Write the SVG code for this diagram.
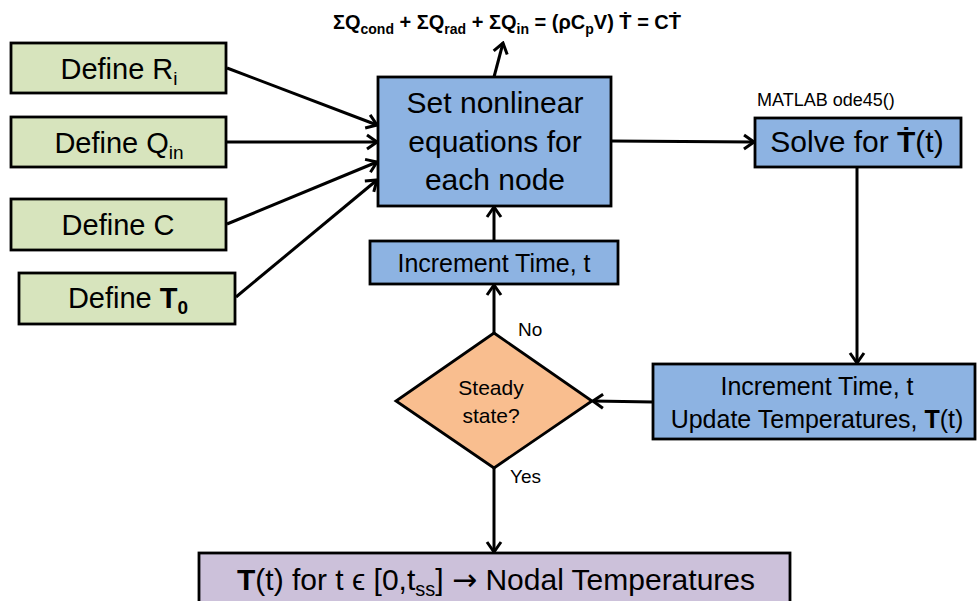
<svg xmlns="http://www.w3.org/2000/svg" width="979" height="601" viewBox="0 0 979 601">
<style>
  text { font-family: "Liberation Sans", Arial, sans-serif; fill: #000; }
  .box { stroke: #000; stroke-width: 2.8; }
  .green { fill: #D7E4BD; }
  .blue { fill: #8DB3E2; }
  .orange { fill: #F9BE8F; }
  .purple { fill: #CCC1DA; }
  .big { font-size: 29px; }
  .mid { font-size: 25px; }
  .lbl { font-size: 19px; }
  .conn line, .conn polyline { stroke: #000; stroke-width: 3; fill: none; marker-end: url(#arr); }
</style>
<defs>
  <marker id="arr" markerUnits="userSpaceOnUse" viewBox="-12 -9 14 18" refX="0" refY="0" markerWidth="14" markerHeight="18" orient="auto">
    <path d="M-10,-7 L0,0 L-10,7" fill="none" stroke="#000" stroke-width="3" stroke-linejoin="miter"/>
  </marker>
</defs>
<rect width="979" height="601" fill="#fff"/>

<g id="equation">
  <text x="507" y="29" text-anchor="middle" font-size="20" font-weight="bold">ΣQ<tspan font-size="14" dy="5">cond</tspan><tspan dy="-5"> + ΣQ</tspan><tspan font-size="14" dy="5">rad</tspan><tspan dy="-5"> + ΣQ</tspan><tspan font-size="14" dy="5">in</tspan><tspan dy="-5"> = (ρC</tspan><tspan font-size="14" dy="5">p</tspan><tspan dy="-5">V) Ṫ = CṪ</tspan></text>
</g>

<g id="defineR">
  <rect class="box green" x="11" y="43" width="215" height="50"/>
  <text class="big" x="119" y="79" text-anchor="middle">Define R<tspan font-size="19" dy="6">i</tspan></text>
</g>
<g id="defineQ">
  <rect class="box green" x="11" y="117" width="215" height="50"/>
  <text class="big" x="119" y="153" text-anchor="middle">Define Q<tspan font-size="19" dy="6">in</tspan></text>
</g>
<g id="defineC">
  <rect class="box green" x="11" y="199" width="215" height="51"/>
  <text class="big" x="118" y="235" text-anchor="middle">Define C</text>
</g>
<g id="defineT0">
  <rect class="box green" x="19" y="273" width="216" height="51"/>
  <text class="big" x="128" y="308" text-anchor="middle">Define <tspan font-weight="bold">T</tspan><tspan font-size="19" font-weight="bold" dy="6">0</tspan></text>
</g>

<g id="setEquations">
  <rect class="box blue" x="378" y="77" width="233" height="129"/>
  <text x="495" y="113" font-size="30" text-anchor="middle">Set nonlinear</text>
  <text x="495" y="152" font-size="30" text-anchor="middle">equations for</text>
  <text x="495" y="190" font-size="30" text-anchor="middle">each node</text>
</g>

<g id="matlabLabel">
  <text x="757" y="106" font-size="18">MATLAB ode45()</text>
</g>

<g id="solve">
  <rect class="box blue" x="755" y="118" width="206" height="49"/>
  <text x="857" y="152" font-size="30" text-anchor="middle">Solve for <tspan font-weight="bold">Ṫ</tspan>(t)</text>
</g>

<g id="incrementTime">
  <rect class="box blue" x="370" y="241" width="248" height="43"/>
  <text class="mid" x="494" y="272" text-anchor="middle">Increment Time, t</text>
</g>

<g id="updateTemps">
  <rect class="box blue" x="653" y="364" width="322" height="75"/>
  <text class="mid" x="817" y="395" text-anchor="middle">Increment Time, t</text>
  <text class="mid" x="817" y="428" text-anchor="middle">Update Temperatures, <tspan font-weight="bold">T</tspan>(t)</text>
</g>

<g id="steadyState">
  <polygon class="box orange" points="494,333 592,401 494,468 396,401"/>
  <text x="491" y="395" font-size="21" text-anchor="middle">Steady</text>
  <text x="491" y="423" font-size="21" text-anchor="middle">state?</text>
</g>

<g id="result">
  <rect class="box purple" x="199" y="553" width="591" height="60"/>
  <text x="496" y="590" font-size="30" text-anchor="middle"><tspan font-weight="bold">T</tspan>(t) for t ϵ [0,t<tspan font-size="20" dy="6">ss</tspan><tspan dy="-6">] </tspan><tspan font-family="DejaVu Sans" font-size="30">→</tspan> Nodal Temperatures</text>
</g>

<g id="labels">
  <text class="lbl" x="518" y="336">No</text>
  <text class="lbl" x="510" y="483">Yes</text>
</g>

<g class="conn" id="connectors">
  <line x1="227" y1="68" x2="377" y2="125"/>
  <line x1="226" y1="142" x2="377" y2="142"/>
  <line x1="227" y1="224" x2="377" y2="162"/>
  <line x1="236" y1="297" x2="377" y2="180"/>
  <line x1="494" y1="77" x2="503" y2="43"/>
  <line x1="611" y1="141" x2="754" y2="142"/>
  <polyline points="857,167 857,363"/>
  <line x1="653" y1="402" x2="593" y2="401"/>
  <line x1="494" y1="333" x2="494" y2="285"/>
  <line x1="494" y1="241" x2="494" y2="207"/>
  <line x1="494" y1="468" x2="494" y2="552"/>
</g>
</svg>
